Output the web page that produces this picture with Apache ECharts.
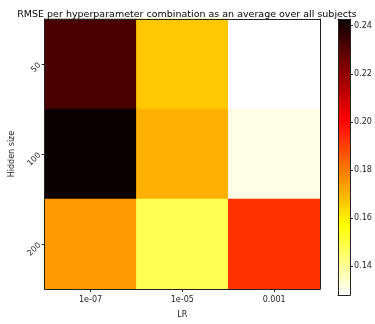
<!DOCTYPE html>
<html><head><meta charset="utf-8">
<script src="https://cdn.jsdelivr.net/npm/echarts@6/dist/echarts.min.js"></script>
<style>html,body{margin:0;padding:0;background:#fff}#c{width:375px;height:324px}</style>
</head><body><div id="c"></div>
<script>
const title = 'RMSE per hyperparameter combination as an average over all subjects';
const lrLabels = ['1e-07', '1e-05', '0.001'];
const hiddenLabels = ['50', '100', '200'];
// rows: hidden size 50, 100, 200; columns: LR 1e-07, 1e-05, 0.001
const rmse50 = [0.2319, 0.1665, 0.1279];
const rmse100 = [0.2428, 0.1707, 0.1308];
const rmse200 = [0.1746, 0.1474, 0.1921];
const colorbarTicks = [0.14, 0.16, 0.18, 0.20, 0.22, 0.24];
const vMin = 0.1279, vMax = 0.2428;

const rows = [rmse50, rmse100, rmse200];
const data = [];
rows.forEach((r, yi) => r.forEach((v, xi) => data.push([xi, yi, v])));

// hot_r colormap sampled
function hot(x) {
  const r = x < 0.365079 ? 0.0416 + (1 - 0.0416) * x / 0.365079 : 1;
  const g = x < 0.365079 ? 0 : (x < 0.746032 ? (x - 0.365079) / (0.746032 - 0.365079) : 1);
  const b = x < 0.746032 ? 0 : (x - 0.746032) / (1 - 0.746032);
  const h = c => Math.round(c * 255).toString(16).padStart(2, '0');
  return '#' + h(r) + h(g) + h(b);
}
const cmap = [];
const N = 64;
for (let i = 0; i <= N; i++) cmap.push(hot(1 - i / N));
// gradient for colorbar: top = max (dark), bottom = min (white)
const stops = cmap.map((c, i) => ({offset: 1 - i / N, color: c}));

const font = 'DejaVu Sans';
const txt = '#222';
const G = {left: 44, right: 55, top: 19, bottom: 29};
const lineAx = {show: true, lineStyle: {color: '#222', width: 1}};

const chart = echarts.init(document.getElementById('c'), null, {renderer: 'canvas'});
chart.setOption({
  animation: false,
  backgroundColor: '#fff',
  title: {text: title, left: 182, textAlign: 'center', top: 5,
    textStyle: {fontFamily: font, fontSize: 9.5, fontWeight: 'normal', color: '#000'}},
  grid: [
    {left: G.left, right: G.right, top: G.top, bottom: G.bottom},
    {left: 338, width: 12, top: 19, bottom: 29}
  ],
  xAxis: [
    {type: 'category', data: lrLabels, gridIndex: 0, position: 'bottom', z: 5,
      name: 'LR', nameLocation: 'middle', nameGap: 22,
      nameTextStyle: {fontFamily: font, fontSize: 8, color: txt},
      axisLine: lineAx, axisTick: {show: true, alignWithLabel: true, length: 3, lineStyle: {color: '#222'}},
      axisLabel: {fontFamily: font, fontSize: 8, color: txt, margin: 7}, splitLine: {show: false}},
    {type: 'category', data: lrLabels, gridIndex: 0, position: 'top', z: 5,
      axisLine: lineAx, axisTick: {show: false}, axisLabel: {show: false}},
    {type: 'category', data: [''], gridIndex: 1, position: 'bottom', z: 5,
      axisLine: lineAx, axisTick: {show: false}, axisLabel: {show: false}, splitLine: {show: false}},
    {type: 'category', data: [''], gridIndex: 1, position: 'top', z: 5,
      axisLine: lineAx, axisTick: {show: false}, axisLabel: {show: false}, splitLine: {show: false}}
  ],
  yAxis: [
    {type: 'category', data: hiddenLabels, gridIndex: 0, inverse: true, position: 'left', z: 5,
      name: 'Hidden size', nameLocation: 'middle', nameGap: 26,
      nameTextStyle: {fontFamily: font, fontSize: 8, color: txt},
      axisLine: lineAx, axisTick: {show: true, alignWithLabel: true, length: 3, lineStyle: {color: '#222'}},
      axisLabel: {fontFamily: font, fontSize: 8, color: txt, rotate: 45, margin: 5}, splitLine: {show: false}},
    {type: 'category', data: hiddenLabels, gridIndex: 0, inverse: true, position: 'right', z: 5,
      axisLine: lineAx, axisTick: {show: false}, axisLabel: {show: false}},
    {type: 'value', gridIndex: 1, min: vMin, max: vMax, position: 'right', z: 5,
      axisLine: lineAx,
      axisTick: {show: true, length: 3, customValues: colorbarTicks, lineStyle: {color: '#222'}},
      axisLabel: {fontFamily: font, fontSize: 8, color: txt, margin: 4, customValues: colorbarTicks,
        formatter: v => v.toFixed(2)},
      splitLine: {show: false}},
    {type: 'value', gridIndex: 1, min: vMin, max: vMax, position: 'left', z: 5,
      axisLine: lineAx, axisTick: {show: false}, axisLabel: {show: false}, splitLine: {show: false}}
  ],
  visualMap: {
    type: 'continuous', min: vMin, max: vMax, show: false, seriesIndex: 0, inRange: {color: cmap}
  },
  series: [{
    type: 'heatmap', xAxisIndex: 0, yAxisIndex: 0, data: data,
    itemStyle: {borderWidth: 0}, emphasis: {disabled: true}
  }, {
    type: 'bar', xAxisIndex: 2, yAxisIndex: 2, data: [vMax], barWidth: '100%', clip: true,
    silent: true,
    itemStyle: {color: new echarts.graphic.LinearGradient(0, 0, 0, 1, stops)}
  }]
});
</script></body></html>
